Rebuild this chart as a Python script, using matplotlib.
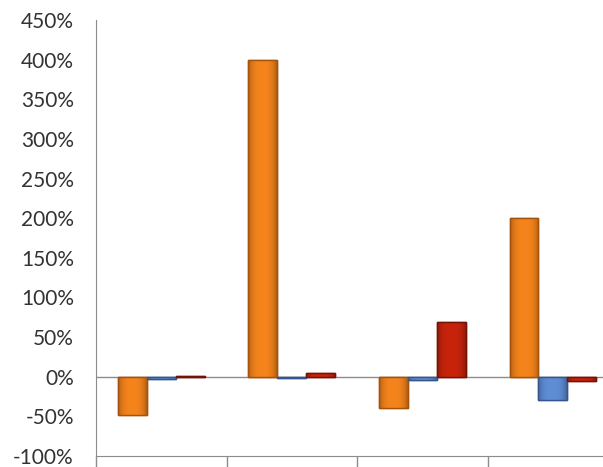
import matplotlib
matplotlib.use("Agg")
import matplotlib.pyplot as plt
import numpy as np
from matplotlib.ticker import FuncFormatter, FixedLocator
from matplotlib.colors import to_rgb

categories = ["A", "B", "C", "D"]
series_orange = [-48, 400, -39, 200]
series_blue = [-3, -1, -4, -30]
series_red = [1, 5, 69, -6]
yticks = [-100, -50, 0, 50, 100, 150, 200, 250, 300, 350, 400, 450]

fig = plt.figure(figsize=(6.03, 4.67), dpi=100)
ax = fig.add_axes([0.1592, 0.0236, 0.8657, 0.9336])

x = np.arange(len(categories))
w = 0.221
specs = [(series_orange, "#F5841C", "#A5520A", -w),
         (series_blue, "#5F8ED6", "#34568C", 0),
         (series_red, "#C8240C", "#741205", w)]

t = np.linspace(0, 1, 64)
shade = 1 - 0.28 * (np.abs(t - 0.5) * 2) ** 3
for vals, fc, ec, off in specs:
    bars = ax.bar(x + off, vals, width=w, color=fc, edgecolor=ec, linewidth=1.0, zorder=3)
    base = np.array(to_rgb(fc))
    img = np.clip(shade[None, :, None] * base[None, None, :], 0, 1)
    for b in bars:
        x0 = b.get_x()
        y0 = b.get_y()
        h = b.get_height()
        im = ax.imshow(img, extent=[x0, x0 + b.get_width(), y0, y0 + h],
                       aspect="auto", zorder=3.5, interpolation="bilinear")
        im.set_clip_path(b)
        ax.add_patch(plt.Rectangle((x0, y0), b.get_width(), h, fill=False,
                                   edgecolor=ec, linewidth=1.0, zorder=4))

ax.set_xlim(-0.5, 3.5)
ax.set_ylim(-100, 450)
ax.axhline(0, color="#8c8c8c", linewidth=1.0, zorder=2)

ax.yaxis.set_major_locator(FixedLocator(yticks))
ax.yaxis.set_major_formatter(FuncFormatter(lambda v, p: f"{int(v)}%"))
ax.tick_params(axis="y", length=0, labelsize=15, labelcolor="#333333", pad=16)
for lbl in ax.get_yticklabels():
    lbl.set_family("Lato")

ax.xaxis.set_major_locator(FixedLocator([-0.5, 0.5, 1.5, 2.5, 3.5]))
ax.set_xticklabels([])
ax.tick_params(axis="x", length=14, width=1.0, color="#8c8c8c", direction="out")

for s in ["top", "right"]:
    ax.spines[s].set_visible(False)
ax.spines["left"].set_color("#8c8c8c")
ax.spines["bottom"].set_color("#8c8c8c")

fig.savefig("out.png", dpi=100)
